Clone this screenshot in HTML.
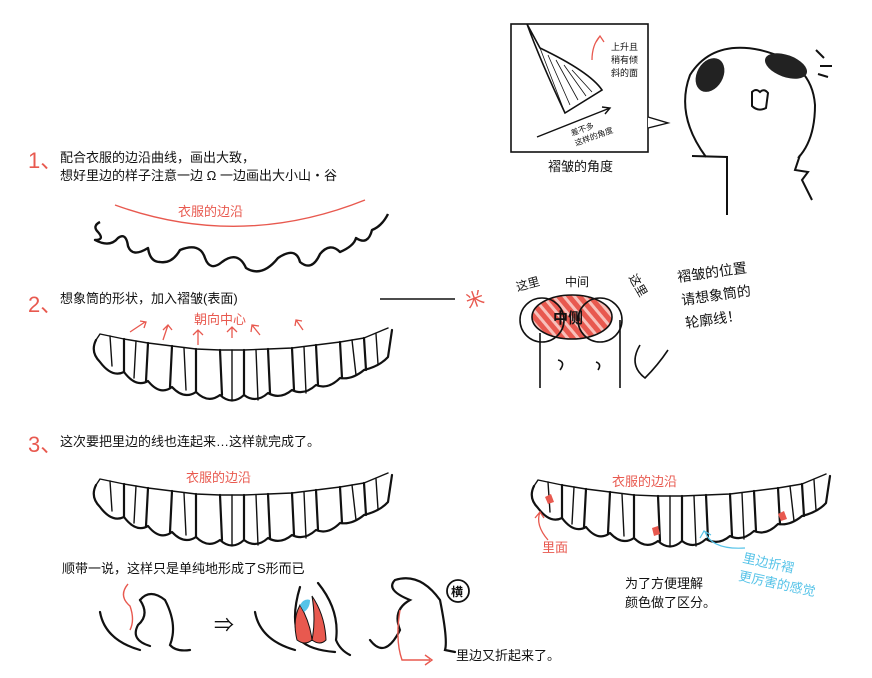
<!DOCTYPE html>
<html><head><meta charset="utf-8"><style>
html,body{margin:0;padding:0;background:#fff;}
svg{display:block;}
text{font-family:"Liberation Sans","Noto Sans CJK SC",sans-serif;}
</style></head><body>
<svg width="872" height="678" viewBox="0 0 872 678" xmlns="http://www.w3.org/2000/svg">
<defs>
<g id="ruf" fill="none" stroke="#111" stroke-width="2.2" stroke-linejoin="round" stroke-linecap="round">
<path d="M96,340 L100,334 L124,339 L148,343 L172,346 L196,349 L220,350 L244,350 L268,349 L292,348 L316,345 L340,342 L364,338 L388,328" stroke-width="1.4"/>
<path d="M96,340 Q90,352 100,362 Q112,378 124,372 Q136,388 148,381 Q160,396 172,387 Q184,400 196,392 Q208,404 220,395 Q232,406 244,395 Q256,404 268,393 Q280,400 292,390 Q304,396 316,385 Q328,390 340,378 Q352,380 364,370 Q380,366 388,357 L392,330"/>
<path d="M124,339 L124,372 M148,343 L146,381 M172,346 L170,387 M196,349 L196,392 M220,350 L222,395 M244,350 L244,395 M268,349 L270,393 M292,348 L294,390 M316,345 L318,385 M340,342 L342,378 M364,338 L366,370"/>
<path d="M110,336 L112,366 M136,341 L134,378 M184,348 L186,390 M232,350 L232,400 M256,350 L258,400 M304,347 L306,393 M352,340 L356,375 M376,334 L378,364" stroke-width="1.4"/>
</g>
</defs>

<!-- Section 1 -->
<text x="28" y="168" font-size="22" fill="#e8594f">1、</text>
<text x="60" y="162" font-size="13" fill="#111">配合衣服的边沿曲线，画出大致，</text>
<text x="60" y="180" font-size="13" fill="#111">想好里边的样子注意一边 Ω 一边画出大小山・谷</text>
<path d="M115,205 Q240,250 365,200" fill="none" stroke="#e8594f" stroke-width="1.4"/>
<text x="178" y="216" font-size="13" fill="#e8594f">衣服的边沿</text>
<path d="M100,222 Q92,226 98,232 Q105,240 95,240 Q110,248 118,238 Q126,232 128,246 Q132,258 148,248 Q150,262 160,262 Q172,264 180,250 Q200,242 205,258 Q210,272 222,262 Q238,250 246,268 Q262,278 278,258 Q296,246 300,262 Q312,272 320,254 Q330,242 340,252 Q354,246 356,238 Q368,246 372,230 Q382,226 388,214" fill="none" stroke="#111" stroke-width="2.4" stroke-linejoin="round"/>

<!-- Section 2 -->
<text x="28" y="312" font-size="22" fill="#e8594f">2、</text>
<text x="60" y="303" font-size="13" fill="#111">想象筒的形状，加入褶皱(表面)</text>
<text x="194" y="324" font-size="13" fill="#e8594f">朝向中心</text>
<g stroke="#e8594f" stroke-width="1.3" fill="none">
<path d="M130,332 L145,322 M140,321 L146,322 L144,328"/>
<path d="M163,340 L168,325 M163,330 L168,325 L172,330"/>
<path d="M198,345 L198,330 M193,335 L198,330 L203,335"/>
<path d="M232,338 L232,327 M227,332 L232,327 L237,332"/>
<path d="M260,335 L252,325 M251,332 L252,325 L259,326"/>
<path d="M303,330 L296,320 M295,326 L296,320 L302,321"/>
</g>
<use href="#ruf"/>
<line x1="380" y1="299" x2="455" y2="299" stroke="#111" stroke-width="1.5"/>
<text x="466" y="306" font-size="18" fill="#e8594f" transform="rotate(-20 474 300)">米</text>

<!-- Section 3 -->
<text x="28" y="452" font-size="22" fill="#e8594f">3、</text>
<text x="60" y="446" font-size="13" fill="#111">这次要把里边的线也连起来…这样就完成了。</text>
<use href="#ruf" transform="translate(0,145)"/>
<text x="186" y="482" font-size="13" fill="#e8594f">衣服的边沿</text>
<use href="#ruf" transform="translate(438,146)"/>
<text x="612" y="486" font-size="13" fill="#e8594f">衣服的边沿</text>
<g fill="#e8594f">
<path d="M545,497 l6,-3 l3,8 l-6,2z"/><path d="M652,528 l6,-2 l2,8 l-6,2z"/><path d="M778,514 l6,-3 l3,8 l-6,2z"/>
</g>
<path d="M548,540 Q535,525 540,512 M535,518 L540,512 L544,518" fill="none" stroke="#e8594f" stroke-width="1.3"/>
<text x="542" y="552" font-size="13" fill="#e8594f">里面</text>
<path d="M745,548 Q712,550 705,532 M700,538 L704,531 L711,535" fill="none" stroke="#56c3e8" stroke-width="1.2"/>
<text x="742" y="562" font-size="13" fill="#56c3e8" transform="rotate(12 742 562)">里边折褶</text>
<text x="738" y="580" font-size="13" fill="#56c3e8" transform="rotate(12 738 580)">更厉害的感觉</text>
<text x="625" y="588" font-size="13" fill="#111">为了方便理解</text>
<text x="625" y="607" font-size="13" fill="#111">颜色做了区分。</text>

<text x="62" y="573" font-size="13" fill="#111">顺带一说，这样只是单纯地形成了S形而已</text>
<g fill="none" stroke="#111" stroke-width="2.2" stroke-linecap="round">
<path d="M100,612 Q105,640 140,650"/>
<path d="M140,600 Q150,588 165,600 Q178,625 170,645 Q176,652 190,650"/>
<path d="M140,600 Q150,615 138,625 Q130,640 150,646"/>
<path d="M255,612 Q260,640 295,650"/>
<path d="M300,587 Q290,620 300,640 Q310,650 335,652"/>
<path d="M318,583 Q340,610 336,640 Q340,650 350,655"/>
<path d="M370,640 Q385,660 400,630 Q392,610 410,600 Q385,590 395,580 Q420,572 440,600 Q448,640 445,650 L455,652"/>
<circle cx="458" cy="591" r="11" stroke-width="1.8"/>
</g>
<text x="451" y="596" font-size="12" font-weight="bold" fill="#111">横</text>
<text x="214" y="632" font-size="20" fill="#111">⇒</text>
<path d="M300,605 Q292,620 297,640 Q305,646 312,640 Q310,622 300,605z M312,596 Q325,615 326,640 Q320,646 312,640 Q316,620 312,596z" fill="#e8594f" stroke="#111" stroke-width="1"/>
<path d="M300,605 Q304,598 310,600 Q310,608 304,612z" fill="#56c3e8"/>
<g fill="none" stroke="#e8594f" stroke-width="1.4">
<path d="M128,584 Q118,596 130,606 Q135,620 130,630"/>
<path d="M400,610 Q395,640 402,660 L430,660 M425,655 L432,660 L425,665"/>
</g>
<text x="456" y="660" font-size="13" fill="#111">里边又折起来了。</text>

<!-- box top right -->
<rect x="511" y="24" width="137" height="128" fill="none" stroke="#111" stroke-width="1.6"/>
<path d="M527,24 Q540,60 565,113 L602,90 Q590,72 540,48z" fill="none" stroke="#111" stroke-width="1.6"/>
<path d="M540,48 L565,113 M548,55 L570,105 M556,60 L578,100 M564,65 L586,96 M572,70 L592,92" stroke="#111" stroke-width="0.8"/>
<path d="M592,60 Q592,45 600,36 M596,42 L600,36 L604,42" fill="none" stroke="#e8594f" stroke-width="1.3"/>
<text x="611" y="50" font-size="9" fill="#111">上升且</text>
<text x="611" y="63" font-size="9" fill="#111">稍有倾</text>
<text x="611" y="76" font-size="9" fill="#111">斜的面</text>
<path d="M537,137 L610,108 M602,107 L610,108 L605,114" fill="none" stroke="#111" stroke-width="1.4"/>
<text x="572" y="136" font-size="8" fill="#111" transform="rotate(-20 572 136)">差不多</text>
<text x="576" y="146" font-size="8" fill="#111" transform="rotate(-20 576 146)">这样的角度</text>
<path d="M648,117 L668,123 L648,128" fill="#fff" stroke="#111" stroke-width="1.4"/>
<text x="548" y="171" font-size="13" fill="#111">褶皱的角度</text>

<!-- character -->
<g fill="none" stroke="#111" stroke-width="2">
<path d="M706,157 Q675,115 690,75 Q712,40 760,50 Q812,62 815,105 Q815,140 798,158"/>
<path d="M692,156 L727,157 L727,215"/>
<path d="M800,155 L795,170 L808,172 L802,180 L812,200"/>
<path d="M752,92 Q756,88 760,92 Q764,88 768,93 L766,108 Q758,112 752,106z"/>
<path d="M816,50 L824,58 M820,66 L832,66 M818,74 L828,77"/>
</g>
<ellipse cx="710" cy="75" rx="13" ry="18" transform="rotate(30 710 75)" fill="#222"/>
<ellipse cx="786" cy="66" rx="22" ry="11" transform="rotate(20 786 66)" fill="#222"/>

<!-- bottom right figure -->
<text x="516" y="289" font-size="12" fill="#111" transform="rotate(-15 525 285)">这里</text>
<text x="565" y="286" font-size="12" fill="#111">中间</text>
<text x="625" y="283" font-size="12" fill="#111" transform="rotate(60 632 283)">这里</text>
<defs><pattern id="st" width="8" height="8" patternUnits="userSpaceOnUse" patternTransform="rotate(-40)"><rect width="8" height="8" fill="#e8594f"/><rect width="3" height="8" fill="#f7c1bb"/></pattern></defs>
<ellipse cx="572" cy="317" rx="40" ry="22" fill="url(#st)" stroke="#111" stroke-width="1.6"/>
<text x="553" y="323" font-size="15" font-weight="bold" fill="#111">中侧</text>
<g fill="none" stroke="#111" stroke-width="1.6">
<circle cx="542" cy="320" r="22"/><circle cx="600" cy="320" r="22"/>
<path d="M540,333 L540,388 M620,320 L620,388 M558,360 Q566,362 560,370 M596,362 Q602,364 598,370 M640,345 Q628,365 645,378 Q658,365 668,350"/>
</g>
<text x="678" y="282" font-size="14" fill="#111" transform="rotate(-8 678 282)">褶皱的位置</text>
<text x="682" y="305" font-size="14" fill="#111" transform="rotate(-8 682 305)">请想象筒的</text>
<text x="686" y="328" font-size="14" fill="#111" transform="rotate(-8 686 328)">轮廓线！</text>
</svg>
</body></html>
